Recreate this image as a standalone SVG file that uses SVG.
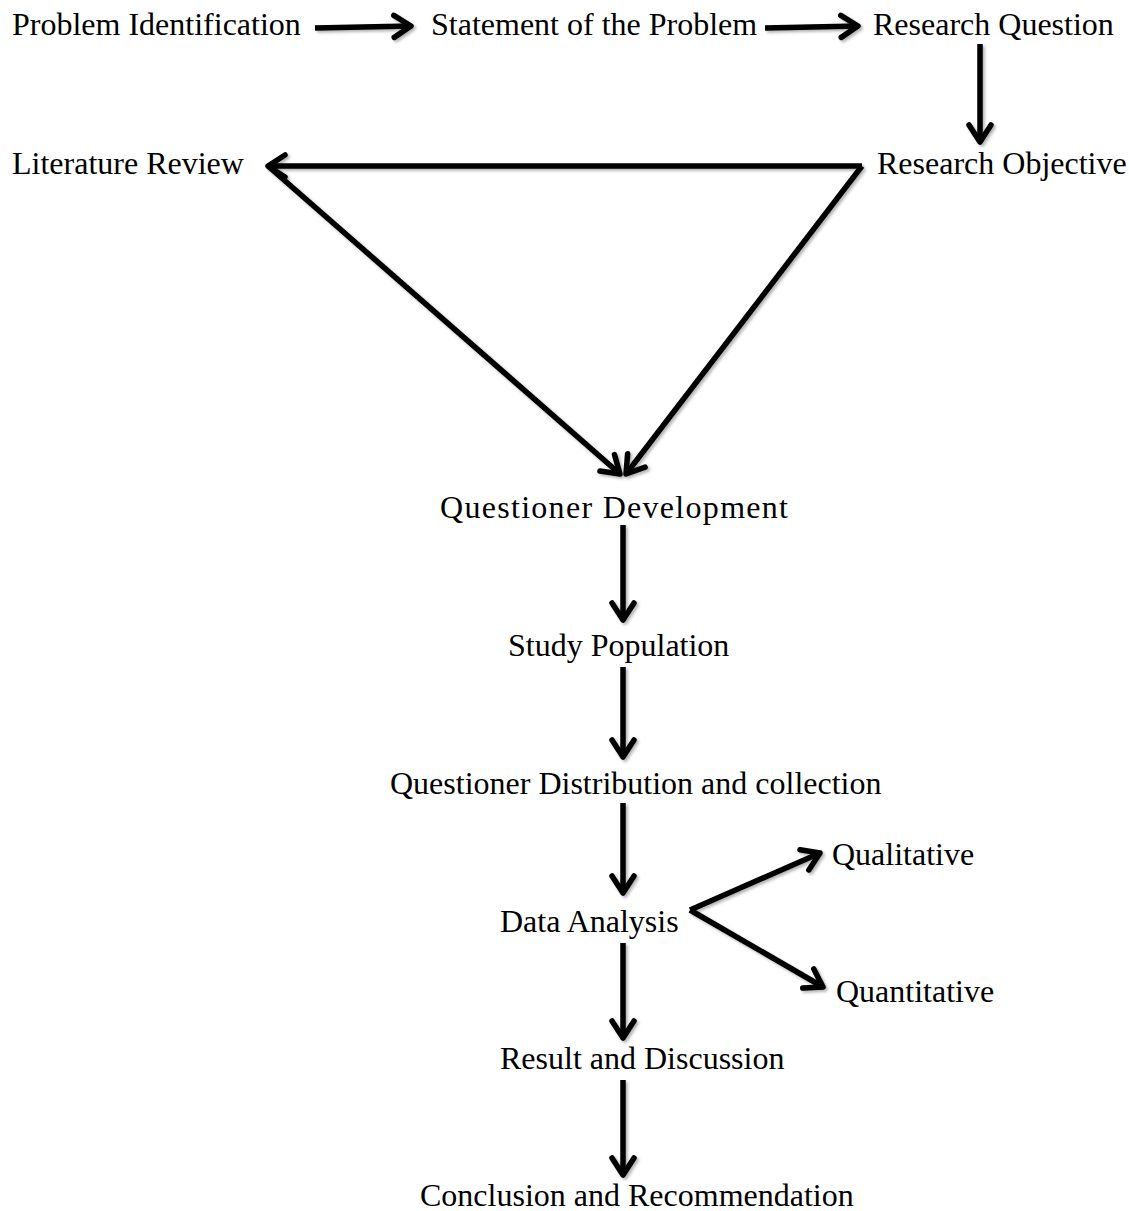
<svg xmlns="http://www.w3.org/2000/svg" width="1129" height="1211" viewBox="0 0 1129 1211">
  <style>
    .lbl { font-family: "Liberation Serif", "Times New Roman", serif; font-size: 32px; fill: #000; }
    .c { stroke: #000; stroke-width: 5.5; fill: none; marker-end: url(#ah); }
  </style>
  <defs>
    <marker id="ah" viewBox="0 0 24 24" markerWidth="24" markerHeight="24" refX="20" refY="12" orient="auto" markerUnits="userSpaceOnUse" overflow="visible">
      <path d="M3,1 L20,12 L3,23" fill="none" stroke="#000" stroke-width="5.5" stroke-linecap="round" stroke-linejoin="round"/>
    </marker>
    <filter id="sh" x="-10%" y="-10%" width="120%" height="120%">
      <feDropShadow dx="2" dy="2" stdDeviation="1.5" flood-color="#000" flood-opacity="0.3"/>
    </filter>
  </defs>

  <g id="connectors" filter="url(#sh)">
    <line class="c" x1="315" y1="28" x2="411" y2="26"/>
    <line class="c" x1="765" y1="28" x2="858" y2="26"/>
    <line class="c" x1="980" y1="44" x2="980" y2="142"/>
    <line class="c" x1="862" y1="166" x2="268" y2="166"/>
    <line class="c" x1="268" y1="166" x2="620" y2="474"/>
    <line class="c" x1="862" y1="166" x2="626" y2="474"/>
    <line class="c" x1="623" y1="525" x2="623" y2="620"/>
    <line class="c" x1="623" y1="667" x2="623" y2="757"/>
    <line class="c" x1="623" y1="803" x2="623" y2="893"/>
    <line class="c" x1="690" y1="910" x2="820" y2="853"/>
    <line class="c" x1="690" y1="910" x2="823" y2="987"/>
    <line class="c" x1="623" y1="943" x2="623" y2="1038"/>
    <line class="c" x1="623" y1="1080" x2="623" y2="1175"/>
  </g>

  <g id="problem-identification"><text class="lbl" x="12" y="35">Problem Identification</text></g>
  <g id="statement-of-problem"><text class="lbl" x="431" y="35">Statement of the Problem</text></g>
  <g id="research-question"><text class="lbl" x="873" y="35">Research Question</text></g>
  <g id="literature-review"><text class="lbl" x="12" y="174">Literature Review</text></g>
  <g id="research-objective"><text class="lbl" x="877" y="174">Research Objective</text></g>
  <g id="questioner-development"><text class="lbl" x="440" y="518" textLength="348" lengthAdjust="spacing">Questioner Development</text></g>
  <g id="study-population"><text class="lbl" x="508" y="656">Study Population</text></g>
  <g id="distribution-collection"><text class="lbl" x="390" y="794">Questioner Distribution and collection</text></g>
  <g id="qualitative"><text class="lbl" x="832" y="865">Qualitative</text></g>
  <g id="data-analysis"><text class="lbl" x="500" y="932">Data Analysis</text></g>
  <g id="quantitative"><text class="lbl" x="836" y="1002">Quantitative</text></g>
  <g id="result-discussion"><text class="lbl" x="500" y="1069">Result and Discussion</text></g>
  <g id="conclusion-recommendation"><text class="lbl" x="420" y="1206">Conclusion and Recommendation</text></g>
</svg>
